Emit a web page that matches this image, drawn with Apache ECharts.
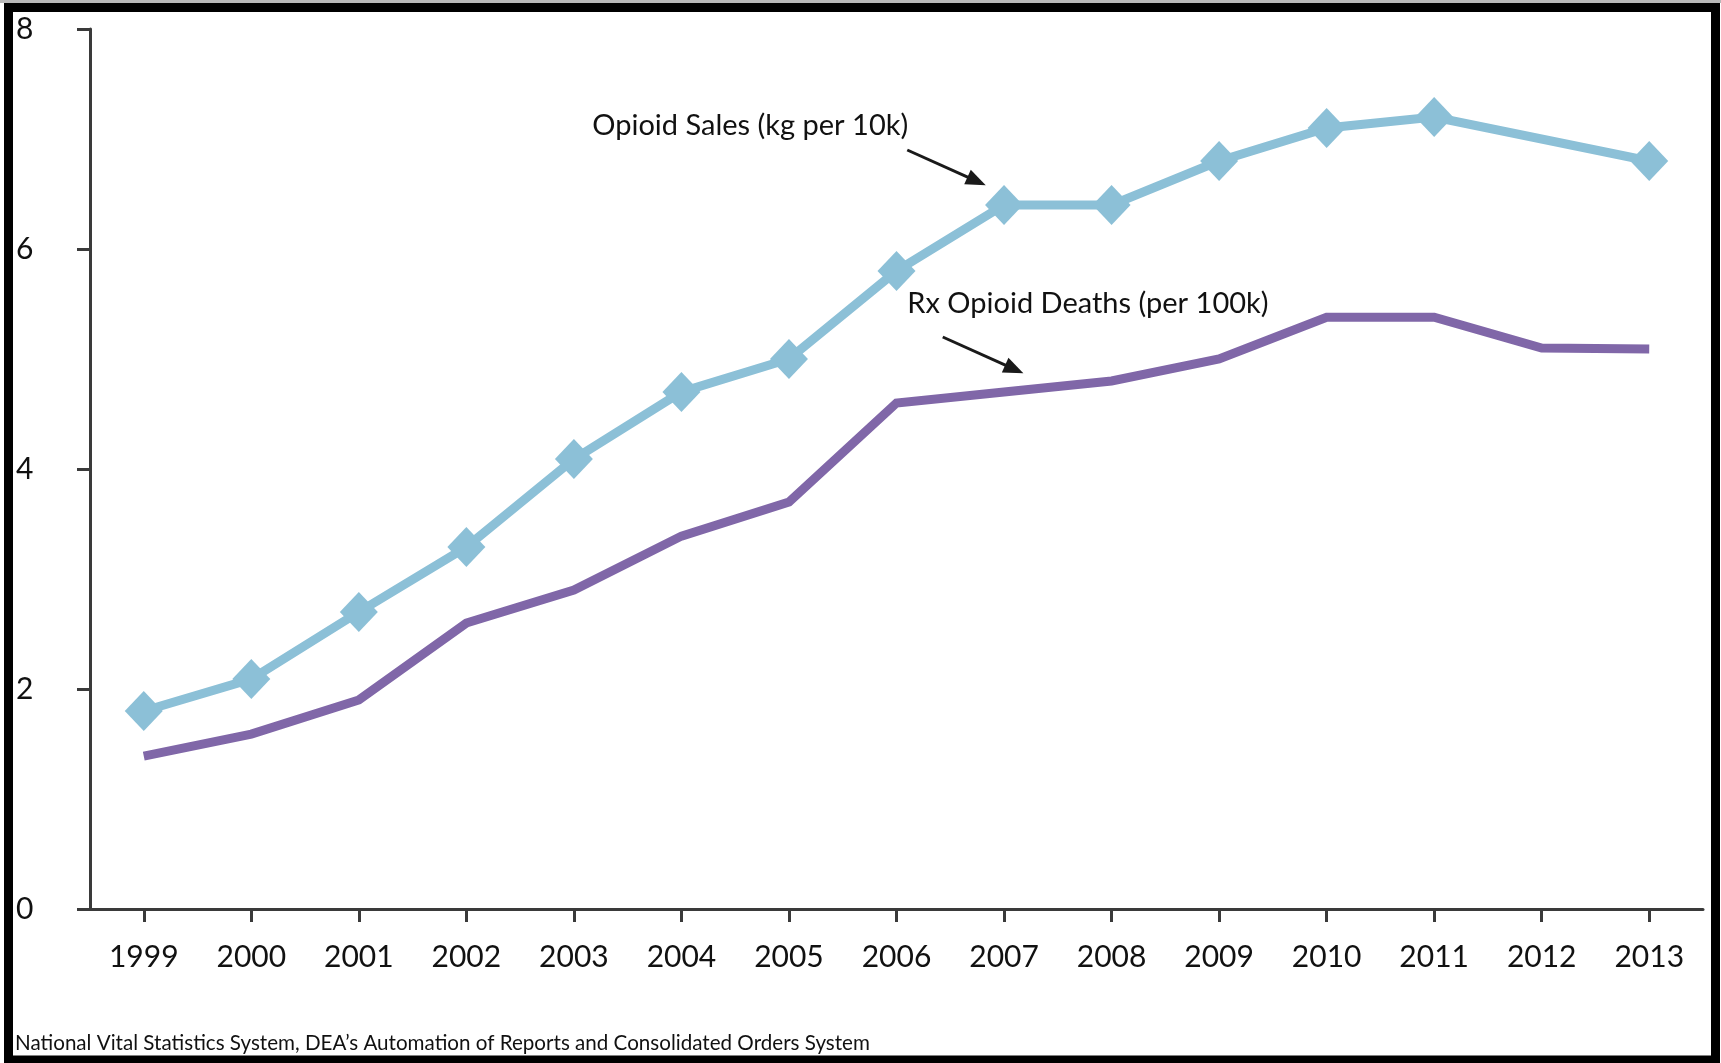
<!DOCTYPE html>
<html><head><meta charset="utf-8">
<script src="https://cdn.jsdelivr.net/npm/echarts@6/dist/echarts.min.js"></script>
<style>html,body{margin:0;padding:0;background:#fff;overflow:hidden}#c{width:1721px;height:1063px}</style>
</head><body><div id="c"></div>
<script>
const years = ['1999','2000','2001','2002','2003','2004','2005','2006','2007','2008','2009','2010','2011','2012','2013'];
const salesKgPer10k = [1.8, 2.09, 2.7, 3.29, 4.09, 4.7, 5.0, 5.8, 6.4, 6.4, 6.8, 7.1, 7.2, null, 6.8];
const deathsPer100k = [1.39, 1.59, 1.9, 2.6, 2.9, 3.39, 3.7, 4.6, 4.7, 4.8, 5.0, 5.38, 5.38, 5.1, 5.09];
const yTicks = [0, 2, 4, 6, 8];
const sourceNote = 'National Vital Statistics System, DEA\u2019s Automation of Reports and Consolidated Orders System';
const annotationTexts = ['Opioid Sales (kg per 10k)', 'Rx Opioid Deaths (per 100k)'];
const annotationLabelAt = [[5.64, 7.12], [8.78, 5.50]];
const annotationArrowFrom = [[7.10, 6.90], [7.43, 5.20]];
const annotationArrowTo = [[7.83, 6.58], [8.18, 4.87]];

const FONT = 'Lato, "Open Sans", sans-serif';
const AXIS = '#3a3a3a';
const TEXT = '#111';
const chart = echarts.init(document.getElementById('c'), null, {renderer: 'canvas'});

const option = {
  animation: false,
  backgroundColor: '#fff',
  grid: {left: 90, right: 18, top: 29, bottom: 154, containLabel: false},
  title: {
    text: sourceNote, left: 15, top: 1033, padding: 0,
    textStyle: {fontFamily: FONT, fontSize: 20.6, fontWeight: 'normal', color: TEXT}
  },
  xAxis: [{
    type: 'category', data: years, boundaryGap: true,
    axisLine: {show: true, onZero: false, lineStyle: {color: AXIS, width: 3}},
    axisTick: {show: true, alignWithLabel: true, length: 13, lineStyle: {color: AXIS, width: 3}},
    axisLabel: {fontFamily: FONT, fontSize: 30, color: TEXT, margin: 33},
    splitLine: {show: false}
  }, {
    type: 'value', min: -0.5, max: 14.5, show: false, position: 'top',
    axisLine: {onZero: false}
  }],
  yAxis: {
    type: 'value', min: yTicks[0], max: yTicks[yTicks.length - 1], interval: yTicks[1] - yTicks[0],
    axisLine: {show: true, onZero: false, lineStyle: {color: AXIS, width: 3}},
    axisTick: {show: true, length: 13, lineStyle: {color: AXIS, width: 3}},
    axisLabel: {fontFamily: FONT, fontSize: 30, color: TEXT, margin: 74, align: 'left'},
    splitLine: {show: false}
  },
  series: [{
    name: 'Rx Opioid Deaths (per 100k)', type: 'line', data: deathsPer100k,
    showSymbol: false, symbol: 'none',
    lineStyle: {color: '#8067A8', width: 9, cap: 'butt', join: 'miter'},
    itemStyle: {color: '#8067A8'}, z: 2
  }, {
    name: 'Opioid Sales (kg per 10k)', type: 'line', data: salesKgPer10k, connectNulls: true,
    symbol: 'diamond', symbolSize: [38, 40], showSymbol: true,
    lineStyle: {color: '#8CC0D7', width: 9, join: 'miter'},
    itemStyle: {color: '#8CC0D7'}, z: 3
  }]
};
chart.setOption(option);

function px(pt) { return chart.convertToPixel({xAxisIndex: 1, yAxisIndex: 0}, pt); }
const graphics = [
  {type: 'rect', shape: {x: 0, y: 0, width: 1721, height: 3}, style: {fill: '#b8b8b8'}, silent: true},
  {type: 'rect', shape: {x: 8.5, y: 7.5, width: 1707, height: 1052.5}, style: {fill: null, stroke: '#000', lineWidth: 9}, silent: true, z: 100}
];
for (let i = 0; i < annotationTexts.length; i++) {
  const c = px(annotationLabelAt[i]);
  graphics.push({type: 'text', x: c[0], y: c[1], style: {text: annotationTexts[i], fontFamily: FONT, fontSize: 29, fill: TEXT, align: 'center', verticalAlign: 'middle'}});
  const a = px(annotationArrowFrom[i]), b = px(annotationArrowTo[i]);
  const dx = b[0] - a[0], dy = b[1] - a[1], L = Math.hypot(dx, dy);
  const ux = dx / L, uy = dy / L, nx = -uy, ny = ux;
  const hl = 20, hw = 8;
  const bx = b[0] - ux * hl, by = b[1] - uy * hl;
  graphics.push({type: 'line', shape: {x1: a[0], y1: a[1], x2: bx + ux * 2, y2: by + uy * 2}, style: {stroke: '#1a1a1a', lineWidth: 3}});
  graphics.push({type: 'polygon', shape: {points: [[b[0], b[1]], [bx + nx * hw, by + ny * hw], [bx - nx * hw, by - ny * hw]]}, style: {fill: '#1a1a1a'}});
}
chart.setOption({graphic: graphics});
</script></body></html>
